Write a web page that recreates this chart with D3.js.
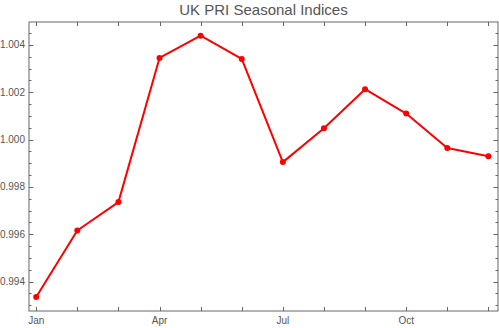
<!DOCTYPE html>
<html><head><meta charset="utf-8">
<script src="https://cdn.jsdelivr.net/npm/d3@7"></script>
<style>body{margin:0;background:#fff}svg{display:block}text{font-family:"Liberation Sans",Arial,sans-serif}</style>
</head><body><div id="c"></div>
<script>
const title = "UK PRI Seasonal Indices";
const months = [1,2,3,4,5,6,7,8,9,10,11,12];
const values = [0.99335,0.99616,0.99736,1.00345,1.00439,1.00341,0.99905,1.00048,1.00213,1.0011,0.99965,0.9993];
const xTickValues = [1,4,7,10];
const xTickLabels = ["Jan","Apr","Jul","Oct"];
const yTickValues = [0.994,0.996,0.998,1.000,1.002,1.004];

const W=499,H=328;
const L=29,R=498,T=22,B=311;
const x=d3.scaleLinear().domain([1,12]).range([36.2,488.4]);
const y=d3.scaleLinear().domain([0.99276,1.00497]).range([B,T]);
const svg=d3.select("#c").append("svg").attr("width",W).attr("height",H);
const frameColor="#666";
svg.append("rect").attr("x",L).attr("y",T).attr("width",R-L).attr("height",B-T)
  .attr("fill","none").attr("stroke",frameColor).attr("stroke-width",1);

months.forEach(m=>{
  const px=Math.round(x(m))+0.5;
  svg.append("line").attr("x1",px).attr("x2",px).attr("y1",B).attr("y2",B-4).attr("stroke",frameColor);
  svg.append("line").attr("x1",px).attr("x2",px).attr("y1",T).attr("y2",T+4).attr("stroke",frameColor);
});
xTickValues.forEach((v,i)=>{
  svg.append("text").attr("x",x(v)).attr("y",324).attr("text-anchor","middle")
    .attr("font-size",10).attr("fill","#555").text(xTickLabels[i]);
});
const minor=d3.range(0.9930,1.00501,0.0005).filter(v=>v>=y.domain()[0]&&v<=y.domain()[1]);
minor.forEach(v=>{
  const isMajor=yTickValues.some(t=>Math.abs(t-v)<1e-7);
  const len=isMajor?4.5:2.5;
  const py=Math.round(y(v))+0.5;
  svg.append("line").attr("x1",L).attr("x2",L+len).attr("y1",py).attr("y2",py).attr("stroke",frameColor);
  svg.append("line").attr("x1",R).attr("x2",R-len).attr("y1",py).attr("y2",py).attr("stroke",frameColor);
});
yTickValues.forEach(v=>{
  svg.append("text").attr("x",25).attr("y",y(v)+3.5).attr("text-anchor","end")
    .attr("font-size",10).attr("fill","#555").text(d3.format(".3f")(v));
});
const line=d3.line().x((d,i)=>x(months[i])).y(d=>y(d));
svg.append("path").datum(values).attr("d",line).attr("fill","none")
  .attr("stroke","#ff0000").attr("stroke-width",2).attr("stroke-linejoin","round");
svg.selectAll("circle.p").data(values).enter().append("circle")
  .attr("cx",(d,i)=>x(months[i])).attr("cy",d=>y(d)).attr("r",3).attr("fill","#ff0000");
svg.append("text").attr("x",(L+R)/2).attr("y",15).attr("text-anchor","middle")
  .attr("font-size",15).attr("fill","#555").text(title);
</script></body></html>
